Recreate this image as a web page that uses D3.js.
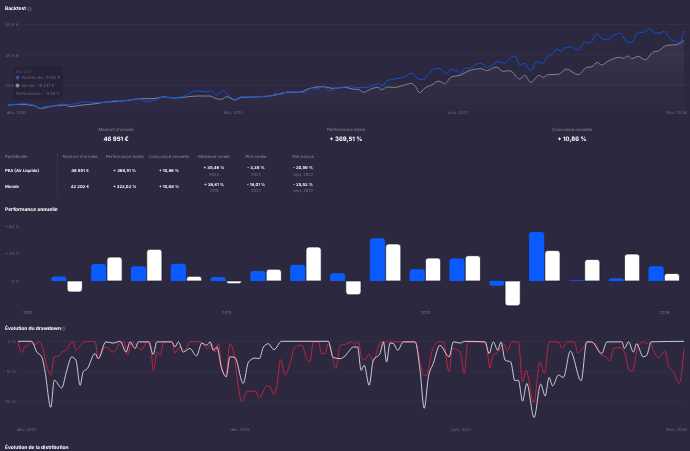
<!DOCTYPE html>
<html><head><meta charset="utf-8">
<script src="https://cdn.jsdelivr.net/npm/d3@7"></script>
<style>
html,body{margin:0;padding:0;background:#2b2840;overflow:hidden}
svg{display:block;filter:blur(.25px)}
text{font-family:Inter,"Noto Sans",sans-serif;text-rendering:geometricPrecision}
.domain{display:none}
</style></head><body><svg id="c" width="690" height="451"></svg>
<script>
// ---------- data ----------
const tickMonths=[2.2,63.5,127,188.7];
const tickDates=["déc. 2010","déc. 2015","janv. 2021","Nov. 2026"];
const backtestTicks=[20,35,50];
const barYTicks=[0,20,40];
const ddTicks=[0,-10,-20];
const barTickYears=[2010,2015,2020,2026];
const years=d3.range(2010,2027);
const barYears=[2011,2012,2013,2014,2015,2016,2017,2018,2019,2020,2021,2022,2023,2024,2025,2026];
const perfPortfolio=[3.2,12.2,10.7,12.4,2.9,7.3,11.7,5.6,30.9,8.5,16.3,-3.39,35.46,0.5,2,10.7];
const perfMonde=[-8,17.3,22.9,3.4,-2,8.5,24.6,-10,26.81,16.6,18.3,-18.01,22,15.6,19.5,5.4];

const btBlueM=[0,2.4,3.9,6.2,7.6,9.2,10.5,12.8,15.2,17,19.4,21.7,23.6,26,28.3,30.2,31.6,34,37.3,38.7,41,43.9,45.8,49.1,50.9,52.4,54.2,56.1,57.5,58.9,60.8,62.2,64.1,66,69.3,73.1,74.5,75.4,76.8,79.2,82,83.9,85.8,87.2,88.9,91,92.8,95.2,97.1,98,101.3,103.2,104.6,105.7,107,109.3,111.7,114,115.9,117,118.7,120.6,122,123.9,124.9,126.7,128,128.9,130.8,132.1,133.8,135.2,136.6,138.5,140.4,142.3,143.4,144.6,145.8,147.7,149.3,150.9,152.4,154,155,156.4,157.3,159.2,160.6,161.6,162.8,164.4,166.3,167.7,169.6,171,172.9,174.8,176.2,178.1,179.5,181.4,182.8,184.2,185.4,187,189.6,191];
const btBlueV=[10,10.43,10.76,10.43,9.77,8.61,9.44,9.6,10.6,10.26,10.92,11.75,11.25,11.42,11.58,12.41,11.91,12.57,13.23,11.75,12.24,14.06,13.73,14.06,15.38,16.86,17.03,16.53,17.2,15.05,17.2,15.05,12.9,14.22,14.06,14.55,14.55,15.87,15.21,16.7,16.7,16.04,18.68,17.85,19.17,17.03,18.51,19,19.5,18.68,18.68,19.67,20.66,19.5,21.98,22.97,23.8,25.78,23.14,22.64,24.79,28.25,28.09,25.45,27.59,27.26,25.45,28.25,28.42,30.23,30.73,28.58,29.57,31.55,30.73,33.86,34.19,29.57,30.73,27.1,31.55,30.73,34.03,35.68,37.66,36.83,38.32,38.81,37.49,37.99,41.12,40.63,45.25,43.1,42.28,44.42,45.58,41.45,40.96,46.07,46.07,47.89,45.58,45.74,46.57,43.1,41.12,46.95];
const btGreyM=[0,3.4,6.2,7.6,9.2,10.9,14.2,16.1,17.5,20.3,24.1,27.9,33.5,37.3,39.6,42.9,43.9,46.7,49.5,53.3,57.1,58.9,60.4,61.8,64.1,66,69.3,73.1,75.9,78.7,82.5,85.3,88.9,91.9,95.2,96.6,98,99,100.4,102.3,104.6,105.6,107,109.3,111.7,114,115.2,116.3,117.8,119.7,121.6,123.4,125.3,127.7,130,133.8,135.2,136.6,138,139.9,141.8,144.6,146,147.7,150.1,151.2,152.6,155.5,157.8,161.1,163.5,164.9,166.6,167.7,169.6,172.9,173.8,175.2,176.2,178.1,180,182.3,183.7,186.1,188.9,191];
const btGreyV=[10,10.43,10.1,9.6,8.28,8.94,9.93,10.1,9.27,9.93,10.6,11.58,12.24,13.23,13.23,13.73,14.22,13.56,13.89,14.55,14.55,13.23,12.9,14.22,12.57,13.89,14.06,14.39,15.21,16.37,16.53,18.35,19.17,18.35,18.84,18.35,17.85,17.85,16.37,17.85,18.84,17.69,19.01,18.84,19.83,20.83,19.17,16.2,18.51,20,21.98,20.66,24.13,24.79,26.93,28.09,27.1,28.09,28.91,26.77,27.1,22.97,24.79,21.32,24.79,23.8,25.12,25.28,27.92,25.12,28.75,29.08,31.22,29.9,31.88,33.7,33.2,34.36,33.04,34.19,32.38,36.34,36.83,39.64,39.97,42.2];

const ddRedM=[0,1.1,2,3,3.9,4.9,6.1,7.1,8.2,9.4,10.4,11.6,12.5,14,15.4,15.9,16.6,18.3,19.2,22.1,23,25,27.3,29.3,30.4,31.4,32.6,35.5,36.9,37.9,38.8,40,40.9,41.7,44.1,45,46.5,47.9,49.3,52.2,54.3,55.5,56.5,57.5,58.4,59.6,60.8,61.8,63.2,64.1,65.6,68,69.2,71.3,72.3,73.4,74.2,75.3,76.6,78,79.4,81.4,82.8,83.7,84.7,86.1,87.1,88.1,89,91.2,92.4,93.8,95.7,96.7,97.6,98.6,99.5,100.7,101.9,103.3,104.1,106.2,113.9,115.3,116.3,117.2,118.8,120.6,122,123.6,124.6,126.8,128,129,132,134,134.7,135.3,136.3,137.8,139.2,140.4,141.6,143.5,144.7,145.7,147.9,149.7,151,152.3,155,156.1,157.4,159.6,160.5,161.9,163.4,165.5,167.4,168.4,169.8,170.8,172.7,174.1,175.3,176.2,177.9,179.4,180.3,181.3,182.2,183.7,185.6,186.5,187.9,189.7,191];
const ddRedV=[0,-3.8,-1.7,-1.3,-0.2,-1.1,-0.1,-2.4,-8,-11.3,-5.2,-5,-3.6,-2.7,-0.2,-0.2,-3,-0.8,-0.1,-0.1,-5.8,-1.9,-3.6,-0.6,-0.2,-4.7,-0.2,-2.8,-0.2,-0.1,-9.7,-3.6,-4.7,-0.2,-0.1,-3.8,-1.9,-3,-0.2,-0.1,-2.4,-0.8,-3.6,-0.8,-8.6,-11.3,-0.8,-3.6,-15.2,-20.2,-16.9,-16.6,-18.9,-14.9,-15.2,-17.9,-15.2,-6.1,-11.3,-7.4,-1.9,-1.3,-5.8,-6.9,-0.2,-0.2,-4.1,-4.1,-0.8,-9.1,-1.3,-1,-0.2,-1,-0.2,-5.8,-6.1,-4.3,-6.9,-1.9,-0.2,-0.2,-0.2,-6.9,-11.3,-11.3,-3,-0.2,-0.2,-10.2,-2.4,-3.6,-10.8,-0.2,-0.2,-0.6,-4.1,-8.9,-4.7,-3.6,-0.8,-3.2,-0.2,-0.2,-13.6,-9.7,-20.59,-6.9,-10.8,-0.2,-0.2,-2.4,-0.2,-0.2,-3.9,-2.4,-0.2,-0.8,-4.7,-5,-6.6,-2.4,-2.1,-4.1,-9.7,-9.9,-1.3,-0.2,-0.8,-0.2,-3,-5.4,-3.2,-8,-10.2,-13.9,-2.4];
const ddWhiteM=[0,3.9,5.4,6.8,7.7,9.4,10.4,12.5,14,15.4,16.6,17.8,18.7,19.9,22.1,23,25.2,27.3,29.3,31,32.1,33.6,34.5,37.4,38.8,39.8,44.1,45,46,47.4,49.3,51.2,52.7,54.1,55.1,56,57,58.4,59.7,60.8,62.2,64.6,66.1,68,69.2,70.4,71.8,73.4,75.6,89,90.4,92.4,93.8,94.7,96.2,97.4,98.4,99.3,100.7,101.9,103.8,104.8,105.7,106.7,107.7,108.9,110.5,113.9,115.3,116.5,117.7,119.1,121,123.6,124.9,126.8,128.2,134,135.1,136.3,137.6,138.5,139.7,141.3,142.5,143.5,144.7,145.9,148,149.9,151.2,152.3,153.3,155,156.4,158.4,161.5,163.1,164.5,167.4,168.9,173.2,173.9,175.1,176.5,177.4,179.3,180.3,181.6,191];
const ddWhiteV=[0,0,-3.6,-5.2,-9.7,-22.1,-13,-15.6,-9.7,-5.2,-6.3,-14.7,-10.2,-9.1,-4.1,-5.8,-0.2,-0.6,0,-3.6,-0.2,-2.4,-0.2,-0.2,-4.4,-0.2,-0.2,-1.9,-0.2,-3.6,-2.4,-4.9,-0.6,-1.3,-0.2,-3,-1.9,-9.1,-11.9,-5.2,-5.4,-14.1,-6.9,-5.6,-5.8,-1.9,-0.8,-2.8,0,0,-5.4,-5.8,-4.9,-3.6,-1.9,-1.9,-9.7,-8,-14.7,-6.3,-4.1,-0.2,-6.9,-0.6,-0.8,-3,-0.2,-0.2,-9.7,-22.4,-11.9,-7.4,-1.3,-5.2,-0.2,-0.6,0,-0.2,-4.1,-0.2,-3,-0.2,-6.3,-6.9,-13.2,-13,-20,-14.1,-25.52,-14.3,-18.3,-12.1,-14.9,-11.3,-12.1,-3.3,-13.2,-0.2,-0.2,-4.1,-0.2,-0.2,-2.4,-0.2,-3.6,-0.8,-5.2,-4.7,-0.2,0];

const statLabels=["Montant d'arrivée","Performance totale","Croissance annuelle"];
const statValues=["46 951 €","+ 369,51 %","+ 10,86 %"];
const tableHeads=["Montant d'arrivée","Performance totale","Croissance annuelle","Meilleure année","Pire année","Pire baisse"];
const rowNames=["PEA (Air Liquide)","Monde"];
const rowCells=[["46 951 €","+ 369,51 %","+ 10,86 %","+ 35,46 %","- 3,39 %","- 20,59 %"],["42 202 €","+ 322,02 %","+ 10,08 %","+ 26,81 %","- 18,01 %","- 25,52 %"]];
const rowSubs=[["","","","2023","2022","sept. 2022"],["","","","2019","2022","sept. 2022"]];

// ---------- style ----------
const BLUE="#0a5bff",RED="#c8243f",DIM="#6f6d82",MID="#8f8d9f",WHITE="#ffffff",EDGE="#1f1c30";
const svg=d3.select("#c");
const zip=(m,v)=>m.map((d,i)=>[d,v[i]]);
function txt(x,y,s,size,fill,weight,anchor){
  return svg.append("text").attr("x",x).attr("y",y).attr("font-size",size).attr("fill",fill)
    .attr("font-weight",weight||400).attr("text-anchor",anchor||"start").attr("dominant-baseline","central").text(s);
}
function infoIcon(x,y){
  svg.append("circle").attr("cx",x).attr("cy",y).attr("r",1.7).attr("fill","none").attr("stroke","#8d8b9c").attr("stroke-width",.5);
  svg.append("circle").attr("cx",x).attr("cy",y).attr("r",.4).attr("fill","#8d8b9c");
}
function styleAxis(g,size){
  g.select(".domain").remove();
  g.selectAll(".tick line").remove();
  g.selectAll("text").attr("fill",DIM).attr("font-size",size||4.2).attr("font-family","Inter,sans-serif");
}
function yAxis(scale,ticks,fmt,x,x2){
  svg.append("g").selectAll("line").data(ticks).join("line")
    .attr("x1",x2[0]).attr("x2",x2[1]).attr("y1",d=>scale(d)).attr("y2",d=>scale(d))
    .attr("stroke","#ffffff").attr("stroke-opacity",.06).attr("stroke-width",.8);
  const g=svg.append("g").attr("transform",`translate(${x},0)`).call(d3.axisLeft(scale).tickValues(ticks).tickFormat(fmt).tickSize(0).tickPadding(0));
  styleAxis(g);
}
function dateAxis(scale,y){
  const g=svg.append("g").attr("transform",`translate(0,${y})`)
    .call(d3.axisBottom(scale).tickValues(tickMonths).tickFormat((d,i)=>tickDates[i]).tickSize(0).tickPadding(0));
  styleAxis(g,4.2);
}

// ---------- titles ----------
txt(5,9.3,"Backtest",4.9,WHITE,700); infoIcon(29.5,9.2);
txt(5,209.6,"Performance annuelle",4.9,WHITE,700);
txt(5,329,"Évolution du drawdown",4.9,WHITE,700); infoIcon(63.3,328.8);
txt(5,447.6,"Évolution de la distribution",4.9,WHITE,700);

// ---------- backtest ----------
const btX=d3.scaleLinear().domain([0,191]).range([8,684]);
const btY=d3.scaleLinear().domain([10,50]).range([105.2,24.4]);
const defs=svg.append("defs");
const grad=defs.append("linearGradient").attr("id","ga").attr("gradientUnits","userSpaceOnUse").attr("x1",0).attr("x2",0).attr("y1",30).attr("y2",118);
grad.append("stop").attr("offset",0).attr("stop-color","#fff").attr("stop-opacity",.07);
grad.append("stop").attr("offset",1).attr("stop-color","#fff").attr("stop-opacity",0);
yAxis(btY,backtestTicks,d=>d+" K €",18.5,[18,689]);
const grey=zip(btGreyM,btGreyV), blue=zip(btBlueM,btBlueV);
svg.append("path").datum(grey).attr("fill","url(#ga)")
  .attr("d",d3.area().x(d=>btX(d[0])).y0(118).y1(d=>btY(d[1])).curve(d3.curveMonotoneX));
const btLine=d3.line().x(d=>btX(d[0])).y(d=>btY(d[1])).curve(d3.curveMonotoneX);
svg.append("path").datum(grey).attr("fill","none").attr("stroke","#8e8c9a").attr("stroke-width",.9).attr("d",btLine);
svg.append("path").datum(blue).attr("fill","none").attr("stroke","#0c55d6").attr("stroke-width",1).attr("d",btLine);
dateAxis(btX,110.8);

// tooltip
svg.append("rect").attr("x",13).attr("y",66).attr("width",50).attr("height",33.5).attr("rx",2).attr("fill","#1f1c30").attr("fill-opacity",.42);
txt(16,71,"Mai 2011",3.8,"#55536a");
svg.append("circle").attr("cx",17.5).attr("cy",77.5).attr("r",2).attr("fill","#36548f");
txt(21.5,77.3,"Portefeuille : 9 912 €",4,"#66647a");
svg.append("circle").attr("cx",17.5).attr("cy",85.5).attr("r",2).attr("fill","#8a8896");
txt(21.5,85.4,"Monde : 10 437 €",4,"#66647a");
txt(16,93.7,"Performance : - 5,05 %",4,"#66647a");

// ---------- stats ----------
const statX=[116,346,572];
statLabels.forEach((s,i)=>{
  txt(statX[i],130.4,s,4.2,MID,400,"middle");
  txt(statX[i],139,statValues[i],6,WHITE,700,"middle");
});

// ---------- table ----------
const colX=[80,124.7,169,214,256,303];
const headY=157.7,rowY=[171,187.7];
txt(5,headY,"Portefeuille",4.2,MID);
tableHeads.forEach((s,i)=>txt(colX[i],headY,s,4.2,MID,400,"middle"));
svg.append("line").attr("x1",57.5).attr("x2",57.5).attr("y1",152).attr("y2",197).attr("stroke","#fff").attr("stroke-opacity",.1).attr("stroke-width",.6);
rowNames.forEach((n,r)=>{
  txt(5,rowY[r],n,4.2,WHITE,600);
  rowCells[r].forEach((c,i)=>{
    const sub=rowSubs[r][i];
    txt(colX[i],sub?rowY[r]-2.6:rowY[r],c,4.2,WHITE,600,"middle");
    if(sub)txt(colX[i],rowY[r]+3.2,sub,4,DIM,400,"middle");
  });
});

// ---------- yearly bars ----------
const barX=d3.scalePoint().domain(years).range([27,664]);
const barInner=d3.scaleBand().domain(["p","m"]).range([-15.5,15.5]).paddingInner(.04);
const barY=d3.scaleLinear().domain([-20,40]).range([308.6,225.7]);
function barPath(x,w,v){
  const y0=barY(0),y1=barY(v),h=Math.abs(y1-y0),r=Math.min(3,h,w/2),s=v>=0?1:-1;
  const p=d3.path();
  p.moveTo(x,y0);p.lineTo(x,y1+s*r);
  p.quadraticCurveTo(x,y1,x+r,y1);
  p.lineTo(x+w-r,y1);
  p.quadraticCurveTo(x+w,y1,x+w,y1+s*r);
  p.lineTo(x+w,y0);p.closePath();
  return p.toString();
}
const barG=svg.append("g");
barG.selectAll(".bp").data(barYears).join("path").attr("class","bp").attr("fill",BLUE)
  .attr("d",(y,i)=>barPath(barX(y)+barInner("p"),barInner.bandwidth(),perfPortfolio[i]));
barG.selectAll(".bm").data(barYears).join("path").attr("class","bm").attr("fill",WHITE).attr("stroke",EDGE).attr("stroke-width",.7)
  .attr("d",(y,i)=>barPath(barX(y)+barInner("m"),barInner.bandwidth(),perfMonde[i]));
const bya=svg.append("g").attr("transform","translate(19.5,0)")
  .call(d3.axisLeft(barY).tickValues(barYTicks).tickFormat(d=>d===0?"0 %":"+ "+d+" %").tickSize(0).tickPadding(0));
styleAxis(bya);
const bxa=svg.append("g").attr("transform","translate(0,311)")
  .call(d3.axisBottom(barX).tickValues(barTickYears).tickSize(0).tickPadding(0).tickFormat(d3.format("d")));
styleAxis(bxa,4);

// ---------- drawdown ----------
const ddX=d3.scaleLinear().domain([0,191]).range([18,684]);
const ddY=d3.scaleLinear().domain([-30,0]).range([431,341.3]);
yAxis(ddY,ddTicks,d=>d===0?"0 %":"- "+(-d)+" %",16,[18,684]);
const ddLine=d3.line().x(d=>ddX(d[0])).y(d=>ddY(d[1])).curve(d3.curveMonotoneX);
svg.append("path").datum(zip(ddRedM,ddRedV)).attr("fill","none").attr("stroke",RED).attr("stroke-width",.95).attr("d",ddLine);
svg.append("path").datum(zip(ddWhiteM,ddWhiteV)).attr("fill","none").attr("stroke","#e9e8ee").attr("stroke-width",.85).attr("d",ddLine);
dateAxis(ddX,427.6);
</script></body></html>
